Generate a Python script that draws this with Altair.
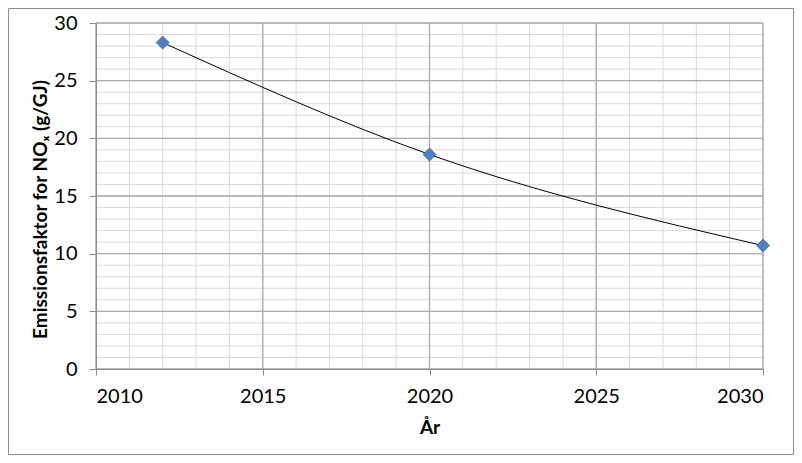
import altair as alt
import pandas as pd

years = [2012, 2020, 2030]
values = [28.3, 18.6, 10.7]

minor_x = list(range(2010, 2031))
minor_y = list(range(0, 31))
major_x = [2010, 2015, 2020, 2025, 2030]
major_y = [0, 5, 10, 15, 20, 25, 30]

FONT = "Lato"
W, H = 667, 346

df = pd.DataFrame({"year": years, "value": values})
xscale = alt.Scale(domain=[2010, 2030], nice=False, zero=False)
yscale = alt.Scale(domain=[0, 30], nice=False)

xaxis = alt.Axis(
    values=major_x, format="d", grid=False, tickSize=6, tickColor="#8c8c8c",
    domainColor="#8c8c8c", labelFont=FONT, labelFontSize=20, labelColor="#000",
    labelPadding=11, title="År", titleFont=FONT, titleFontSize=19,
    titleFontWeight="bold", titleColor="#000", titlePadding=12, zindex=2
)
yaxis = alt.Axis(
    values=major_y, grid=False, tickSize=7, tickColor="#8c8c8c",
    domainColor="#8c8c8c", labelFont=FONT, labelFontSize=20, labelColor="#000",
    labelPadding=12, title="Emissionsfaktor for NOₓ (g/GJ)", titleFont=FONT,
    titleFontSize=19, titleFontWeight="bold", titleColor="#000", titlePadding=3,
    titleY=186, zindex=2
)

frame = alt.Chart(pd.DataFrame({"a": [0]})).mark_rect(
    filled=False, stroke="#8c8c8c", strokeWidth=1
).encode(
    x=alt.value(-87.5), x2=alt.value(W + 30.5),
    y=alt.value(-14.5), y2=alt.value(H + 85.5)
)

minor_v = alt.Chart(pd.DataFrame({"year": minor_x})).mark_rule(
    color="#d9d9d9", strokeWidth=1
).encode(x=alt.X("year:Q", scale=xscale, axis=xaxis))

minor_h = alt.Chart(pd.DataFrame({"value": minor_y})).mark_rule(
    color="#d9d9d9", strokeWidth=1
).encode(y=alt.Y("value:Q", scale=yscale, axis=yaxis))

major_v = alt.Chart(pd.DataFrame({"year": major_x})).mark_rule(
    color="#ababab", strokeWidth=1.3
).encode(x=alt.X("year:Q", scale=xscale, axis=xaxis))

major_h = alt.Chart(pd.DataFrame({"value": major_y})).mark_rule(
    color="#ababab", strokeWidth=1.3
).encode(y=alt.Y("value:Q", scale=yscale, axis=yaxis))

line = alt.Chart(df).mark_line(
    color="#000000", strokeWidth=1, interpolate="monotone"
).encode(
    x=alt.X("year:Q", scale=xscale, axis=xaxis),
    y=alt.Y("value:Q", scale=yscale, axis=yaxis),
)

points = alt.Chart(df).mark_point(
    shape="diamond", filled=True, size=170, color="#4f81bd", opacity=1,
    stroke="#3f6fa8", strokeWidth=0.8
).encode(
    x=alt.X("year:Q", scale=xscale, axis=xaxis),
    y=alt.Y("value:Q", scale=yscale, axis=yaxis),
)

chart = alt.layer(
    frame, minor_v, minor_h, major_v, major_h, line, points
).properties(
    width=W, height=H,
    autosize=alt.AutoSizeParams(type="none"),
    padding={"left": 88, "top": 15, "right": 31, "bottom": 86},
).configure_view(stroke=None).configure(background="white")

chart.save("out.html", embed_options={"renderer": "svg", "actions": False})
